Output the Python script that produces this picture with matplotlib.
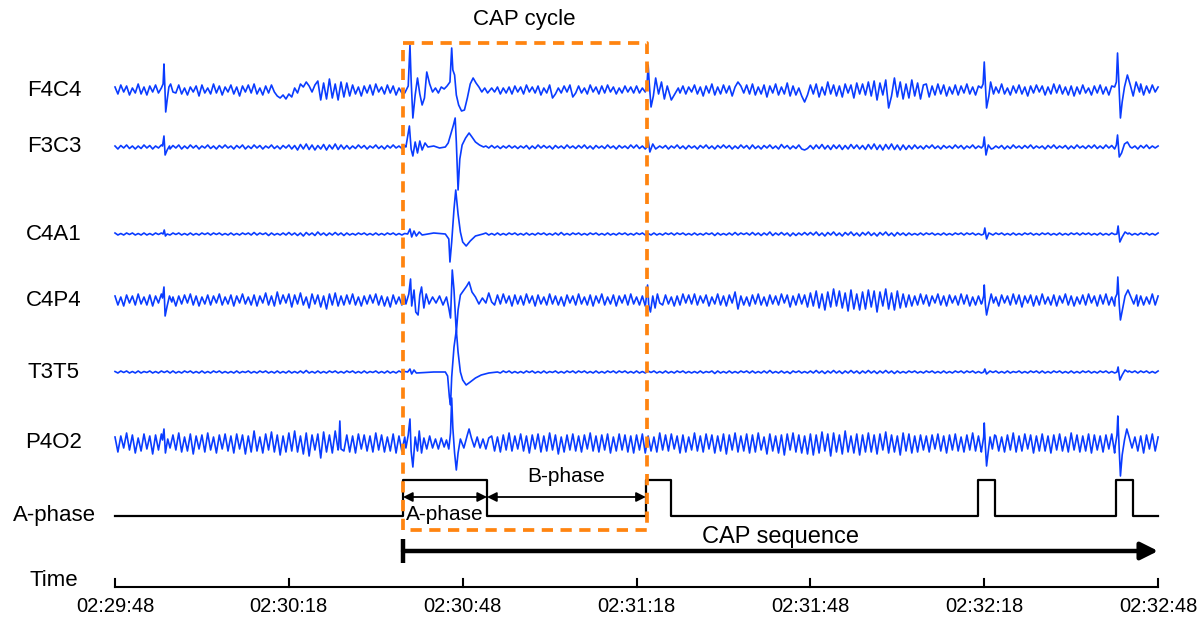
import numpy as np
import matplotlib.pyplot as plt

plt.rcParams['font.family'] = ['Liberation Sans', 'DejaVu Sans']

# seconds after 02:29:48, background samples every 0.5 s (amplitude, px-like units)
t_bg = np.arange(361) * 0.5

F4C4_bg = [3, -4, 5, -2, 4, -5, 2, -3, 6, -4, 3, -5, 4, -2, 5, -3, 2, -4, 3, -5,
           4, -3, 5, -4, 2, -5, 3, -2, 4, -6, 5, -3, 2, -4, 6, -3, 4, -5, 3, -2,
           5, -4, 3, -6, 4, -2, 5, -3, 6, -4, 2, -5, 4, -3, 5, -2, -6, -8, -5, -9,
           -4, -7, 2, -3, 6, 3, 8, 4, -2, 5, 9, -10, 7, -9, 11, -8, 6, -10, 8, -7,
           7, -6, 5, -4, 3, -6, 4, -3, 5, -5, 6, -2, 3, -4, 5, -3, 4, -5, 2, -3,
           3, -4, 4, -3, 2, -2, 3, -3, 4, -2, 3, -3, 2, -3, 4, -2, 3, -2, 2, -3,
           2, -3, 3, -2, 2, -3, 3, -2, 2, -3, 4, -2, 3, -4, 2, -3, 3, -4, 4, -2,
           3, -4, 5, -2, 3, -3, 4, -5, 2, -3, 5, -8, -4, 2, -3, 4, -2, 5, -7, -3,
           4, -3, 2, -4, 5, -2, 3, -4, 4, -3, 5, -2, 3, -4, 2, -3, 4, -2, 3, -3,
           4, -3, 2, -5, 3, -4, 5, -3, 2, -4, 3, -5, 4, -2, 5, -3, 4, -4, 3, -2,
           5, -4, 3, -6, 4, -3, 6, -5, 3, -4, 5, -3, 4, -6, 3, 8, 4, -3, 5, -4,
           6, -5, 3, -4, 5, -7, 4, -3, 6, -5, 3, -4, 7, -6, 4, -5, 2, -6, -12, -5,
           5, -4, 6, -7, 3, -5, 8, -4, 5, -6, 4, -7, 6, -3, 5, -8, 7, -4, 6, -5,
           8, -6, 9, -10, 7, -5, 10, -18, -6, 12, -7, 8, -9, 6, -8, 10, -6, 7, -9, 5,
           6, -7, 4, -5, 6, -4, 5, -6, 3, -4, 5, -5, 4, -3, 6, -4, 3, -5, 4, -3,
           5, -4, 3, -5, 4, -3, 6, -4, 2, -5, 4, -3, 5, -4, 3, -6, 4, -3, 5, -2,
           4, -5, 3, -4, 6, -3, 5, -4, 3, -5, 4, -6, 3, -4, 5, -3, 2, -5, 4, -3,
           5, -4, 3, -5, 4, -2, 3, -4, 5, -3, 4, -5, 3, -4, 6, -5, 4, -3, 5, -2,
           3]

F3C3_bg = [1, -2, 1.5, -1, 2, -1.5, 1, -2, 1, -1.5, 2, -1, 1.5, -2, 1, -1, 2, -1.5, 1, -2,
           1.5, -1, 2, -2, 1, -1.5, 2, -1, 1.5, -2, 1, -1, 2, -1.5, 1, -2, 1.5, -1, 2, -1,
           1, -2, 1.5, -1, 2, -2, 1, -1.5, 2, -1, 1.5, -2, 1, -1, 2, -1.5, 1, -2, 1.5, -1,
           2, -2, 1.5, -3, 2.5, -2, 3, -2.5, 2, -3, 1.5, -2, 2.5, -3, 2, -2, 3, -2.5, 2, -2,
           1.5, -2, 1, -1.5, 2, -1, 1.5, -2, 1, -1, 2, -1.5, 1, -2, 1.5, -1, 2, -1, 1, -1.5,
           1, -1, 1, -1, 1, -1, 1, -1, 1, -1, 1, -1, 1, -1, 1, -1, 1, -1, 1, -1,
           1, -1.5, 1, -1, 1.5, -1, 1, -1.5, 1, -1, 1.5, -1, 1, -1.5, 1, -1, 1.5, -1, 1, -1.5,
           1, -1, 1.5, -2, 1, -1.5, 2, -1, 1.5, -1, 1, -2, 1.5, -1, 1, -1.5, 2, -1, 1, -1.5,
           1.5, -1, 2, -1.5, 1, -2, 1.5, -1, 1, -1.5, 2, -1, 1, -2, 1.5, -1, 1, -1.5, 2, -1,
           2, -1.5, 1, -2, 1.5, -1, 2, -1.5, 1, -1, 1.5, -2, 1, -1, 2, -1.5, 1, -2, 1.5, -1,
           1, -2, 1.5, -1, 2, -1.5, 1, -2, 1.5, -1, 2, -1, 1.5, -2, 1, -1.5, 2, -1, 1.5, -2,
           2, -1.5, 1, -2, 1.5, -1, 2, -1.5, 1, -2, 2.5, -1, 1.5, -2, 1, -1.5, 2, -2, -3, -1.5,
           1.5, -2, 2, -1.5, 2.5, -2, 1.5, -2.5, 2, -1.5, 2, -2.5, 1.5, -2, 2.5, -1.5, 2, -2, 1.5, -2.5,
           2.5, -2, 3, -2.5, 2, -3, 2.5, -2, 3, -2.5, 2, -3, 2, -2.5, 1.5, -2, 2, -1.5, 1, -2,
           1.5, -1, 2, -1.5, 1, -2, 1.5, -1, 1, -1.5, 2, -1, 1.5, -2, 1, -1, 2, -1.5, 1, -1,
           1.5, -1, 2, -1.5, 1, -1, 1.5, -2, 1, -1.5, 2, -1, 1, -1.5, 1.5, -1, 2, -1.5, 1, -1,
           1, -2, 1.5, -1, 2, -1.5, 1, -1, 1.5, -2, 1, -1.5, 2, -1, 1, -1.5, 1.5, -1, 2, -1.5,
           1, -1.5, 2, -1, 1.5, -2, 1, -1, 1.5, -1.5, 2, -1, 1, -2, 1.5, -1, 2, -1.5, 1, -1,
           1]

C4A1_bg = [1, -1, 0.5, -1, 1, -0.5, 1, -1, 0.5, -1, 1, -1, 0.5, -1, 1, -0.5, 1, -1, 0.5, -1,
           1, -0.5, 1, -1, 0.5, -1, 1, -1, 0.5, -1, 1, -0.5, 1, -1, 1, -0.5, 1, -1, 0.5, -1,
           1, -1, 0.5, -1, 1, -0.5, 1, -1, 1.5, -1, 1, -0.5, 1, -1.5, 1, -1, 0.5, -1, 1, -1,
           1.5, -1, 1, -1.5, 1, -2, 1.5, -1, 1, -1.5, 2, -1, 1, -1.5, 1, -1, 1.5, -1, 1, -1.5,
           1, -1, 0.5, -1, 1, -0.5, 1, -1, 0.5, -1, 1, -1, 0.5, -1, 1, -0.5, 1, -1, 0.5, -1,
           0.5, -0.5, 0.5, -0.5, 0.5, -0.5, 0.5, -0.5, 0.5, -0.5, 0.5, -0.5, 0.5, -0.5, 0.5, -0.5, 0.5, -0.5, 0.5, -0.5,
           1, -0.5, 1, -1, 0.5, -1, 1, -0.5, 1, -1, 0.5, -1, 1, -1, 0.5, -1, 1, -0.5, 1, -1,
           0.5, -1, 1, -1, 0.5, -1, 1, -0.5, 1, -1, 0.5, -1, 1, -1, 1.5, -1, 0.5, -1, 1, -0.5,
           1, -1, 0.5, -1, 1, -0.5, 1, -1, 0.5, -1, 1, -1, 0.5, -1, 1, -0.5, 1, -1, 0.5, -1,
           1, -0.5, 1, -1, 0.5, -1, 1, -1, 0.5, -1, 1, -0.5, 1, -1, 1, -0.5, 1, -1, 0.5, -1,
           1, -1, 0.5, -1, 1, -0.5, 1, -1.5, 1, -1, 0.5, -1, 1, -1, 1.5, -1, 1, -0.5, 1, -1,
           1.5, -1, 1, -1.5, 1, -1, 2, -1.5, 1, -1, 1.5, -1, 1, -2, 1, -1.5, 1, -1, 1.5, -1,
           1.5, -1, 2, -1.5, 1, -2, 1.5, -1, 2, -1.5, 1, -2, 1.5, -1, 2, -1.5, 1, -2, 1.5, -1,
           2, -1.5, 1, -2, 1.5, -1, 2, -1.5, 1, -2, 1.5, -1, 1, -1.5, 1, -1, 0.5, -1, 1, -1,
           1, -0.5, 1, -1, 0.5, -1, 1, -1, 0.5, -1, 1, -0.5, 1, -1, 1, -0.5, 1, -1, 0.5, -1,
           1, -1, 0.5, -1, 1, -0.5, 1, -1, 0.5, -1, 1, -1, 0.5, -1, 1, -0.5, 1, -1, 0.5, -1,
           1, -0.5, 1, -1, 0.5, -1, 1, -1, 0.5, -1, 1, -0.5, 1, -1, 1, -0.5, 1, -1, 0.5, -1,
           1, -1, 0.5, -1, 1, -0.5, 1, -1, 0.5, -1, 1, -1, 0.5, -1, 1, -0.5, 1, -1, 0.5, -1,
           1]

C4P4_bg = [4, -5, 3, -6, 5, -3, 4, -5, 6, -4, 3, -5, 5, -6, 4, -3, 6, -4, 5, -5,
           3, -6, 4, -4, 5, -3, 6, -5, 4, -6, 3, -4, 5, -5, 4, -3, 6, -5, 3, -4,
           5, -6, 4, -3, 6, -4, 3, -5, 5, -6, 4, -3, 7, -5, 4, -6, 8, -4, 5, -3,
           6, -7, 5, -4, 7, -5, 3, -8, 6, -4, 5, -7, 4, -9, 6, -5, 7, -6, 4, -5,
           5, -4, 6, -5, 3, -6, 4, -4, 5, -3, 6, -5, 4, -6, 3, -7, 5, -4, 3, -5,
           4, -5, 4, -5, 4, -5, 4, -5, 4, -5, 4, -5, 4, -5, 4, -5, 4, -5, 4, -5,
           5, -4, 3, -6, 5, -3, 4, -5, 6, -4, 3, -5, 5, -4, 6, -3, 4, -6, 5, -4,
           4, -5, 6, -3, 4, -6, 5, -4, 3, -5, 6, -4, 4, -5, 3, -6, 5, -3, 4, -5,
           6, -4, 3, -5, 5, -6, 4, -3, 6, -5, 3, -4, 5, -6, 4, -3, 5, -5, 6, -4,
           3, -5, 4, -6, 5, -4, 6, -3, 4, -5, 5, -4, 3, -6, 4, -5, 6, -3, 5, -4,
           6, -5, 4, -3, 5, -6, 3, -4, 6, -5, 4, -6, 5, -3, 8, -9, 4, -5, 3, -6,
           5, -4, 6, -5, 3, -6, 5, -4, 4, -5, 6, -3, 5, -7, 4, -5, 6, -4, 5, -7,
           7, -6, 9, -8, 6, -10, 8, -7, 11, -6, 9, -8, 7, -11, 10, -9, 6, -10, 8, -9,
           10, -7, 9, -12, 8, -6, 11, -9, 7, -10, 9, -8, 6, -7, 5, -6, 4, -5, 6, -4,
           5, -6, 4, -3, 6, -5, 4, -6, 5, -3, 4, -5, 6, -4, 5, -6, 3, -5, 4, -4,
           5, -5, 6, -4, 3, -6, 5, -3, 4, -5, 6, -4, 5, -7, 4, -3, 5, -6, 4, -5,
           6, -4, 3, -5, 5, -6, 4, -3, 6, -5, 4, -6, 3, -4, 5, -5, 6, -3, 4, -6,
           5, -4, 6, -5, 3, -6, 4, -5, 5, -3, 6, -4, 5, -6, 4, -5, 3, -4, 6, -5,
           4]

T3T5_bg = [0.5, -1, 1, -0.5, 1, -1, 0.5, -1, 1, -1, 0.5, -0.5, 1, -1, 0.5, -1, 1, -0.5, 1, -1,
           1, -1, 0.5, -1, 1, -0.5, 1, -1, 0.5, -1, 1, -1, 0.5, -1, 1, -0.5, 1, -1, 0.5, -1,
           0.5, -1, 1, -1, 0.5, -0.5, 1, -1, 0.5, -1, 1, -0.5, 1, -1, 0.5, -1, 1, -1, 0.5, -1,
           1, -1, 0.5, -1, 1, -1, 1.5, -1, 0.5, -1, 1, -1, 0.5, -1, 1, -0.5, 1, -1, 0.5, -1,
           1, -0.5, 1, -1, 0.5, -1, 1, -1, 0.5, -0.5, 1, -1, 0.5, -1, 1, -1, 0.5, -1, 1, -0.5,
           0.5, -0.5, 0.5, -0.5, 0.5, -0.5, 0.5, -0.5, 0.5, -0.5, 0.5, -0.5, 0.5, -0.5, 0.5, -0.5, 0.5, -0.5, 0.5, -0.5,
           1, -1, 0.5, -1, 1, -0.5, 1, -1, 0.5, -1, 1, -1, 0.5, -1, 1, -0.5, 1, -1, 0.5, -1,
           0.5, -1, 1, -0.5, 1, -1, 0.5, -1, 1, -1, 0.5, -0.5, 1, -1, 0.5, -1, 1, -0.5, 1, -1,
           1, -0.5, 1, -1, 0.5, -1, 1, -1, 0.5, -1, 1, -0.5, 1, -1, 1, -0.5, 1, -1, 0.5, -1,
           1, -1, 0.5, -1, 1, -0.5, 1, -1, 0.5, -1, 1, -1, 0.5, -1, 1, -0.5, 1, -1, 0.5, -1,
           0.5, -1, 1, -1, 0.5, -0.5, 1, -1.5, 1, -1, 0.5, -1, 1, -1, 0.5, -1, 1, -0.5, 1, -1,
           1, -1, 0.5, -1, 1, -1, 1.5, -1, 0.5, -1, 1, -1, 0.5, -1.5, 1, -0.5, 1, -1, 0.5, -1,
           1, -1, 1.5, -1, 1, -1.5, 1, -1, 1.5, -1, 1, -1.5, 1, -1, 1.5, -1, 1, -1.5, 1, -1,
           1.5, -1, 1, -1.5, 1, -1, 1.5, -1, 1, -1.5, 1, -1, 0.5, -1, 1, -0.5, 1, -1, 0.5, -1,
           1, -0.5, 1, -1, 0.5, -1, 1, -1, 0.5, -1, 1, -0.5, 1, -1, 1, -0.5, 1, -1, 0.5, -1,
           0.5, -1, 1, -0.5, 1, -1, 0.5, -1, 1, -1, 0.5, -0.5, 1, -1, 0.5, -1, 1, -0.5, 1, -1,
           1, -1, 0.5, -1, 1, -0.5, 1, -1, 0.5, -1, 1, -1, 0.5, -1, 1, -0.5, 1, -1, 0.5, -1,
           1, -0.5, 1, -1, 0.5, -1, 1, -1, 0.5, -1, 1, -0.5, 1, -1, 1, -0.5, 1, -1, 0.5, -1,
           1]

P4O2_bg = [6, -9, 7, -5, 10, -7, 8, -10, 5, -8, 9, -6, 7, -11, 8, -7, 9, -8, 6, -9,
           8, -7, 10, -9, 6, -8, 9, -11, 7, -6, 8, -9, 10, -7, 6, -10, 8, -6, 9, -8,
           7, -10, 9, -6, 8, -11, 7, -9, 12, -8, 6, -10, 9, -7, 11, -9, 8, -12, 7, -9,
           10, -8, 12, -9, 7, -11, 10, -13, 8, -7, 9, -15, 11, -9, 8, -10, 12, -7, 9, -8,
           8, -9, 7, -10, 9, -6, 8, -8, 7, -9, 10, -7, 8, -9, 6, -8, 9, -10, 7, -8,
           6, -7, 6, -7, 6, -7, 6, -7, 6, -7, 6, -7, 6, -7, 6, -7, 6, -7, 6, -7,
           8, -7, 6, -9, 7, -8, 9, -6, 8, -10, 7, -8, 6, -9, 8, -7, 10, -8, 7, -6,
           9, -8, 7, -10, 8, -6, 9, -9, 7, -8, 10, -7, 8, -11, 6, -9, 8, -7, 9, -8,
           7, -9, 8, -6, 10, -8, 7, -9, 8, -7, 9, -10, 6, -8, 9, -7, 8, -9, 7, -10,
           8, -7, 9, -10, 7, -8, 6, -9, 10, -7, 8, -8, 9, -6, 7, -10, 8, -9, 6, -7,
           10, -8, 7, -9, 9, -6, 8, -10, 7, -8, 9, -11, 8, -7, 10, -9, 7, -8, 9, -10,
           8, -9, 10, -7, 6, -11, 9, -8, 7, -10, 8, -12, 9, -7, 10, -9, 8, -10, 7, -11,
           9, -12, 8, -10, 11, -8, 9, -13, 10, -9, 8, -11, 12, -9, 7, -10, 9, -12, 8, -9,
           10, -9, 8, -11, 9, -7, 11, -10, 8, -9, 7, -12, 10, -8, 9, -10, 7, -9, 8, -7,
           7, -9, 8, -6, 9, -8, 7, -10, 8, -7, 9, -8, 6, -9, 8, -7, 10, -8, 7, -9,
           8, -7, 9, -10, 7, -8, 6, -9, 8, -7, 10, -9, 7, -8, 9, -6, 8, -10, 7, -8,
           9, -8, 7, -10, 8, -7, 9, -8, 6, -9, 10, -7, 8, -9, 7, -8, 9, -10, 8, -7,
           7, -9, 8, -6, 9, -10, 7, -8, 8, -9, 6, -7, 9, -8, 7, -10, 8, -6, 9, -8,
           6]

# transient complexes, (seconds, amplitude) samples
F4C4_events = [
    [(8.0, 2), (8.3, 6), (8.45, 26), (8.6, 4), (8.75, -22), (9.0, -10), (9.3, 3), (9.6, 6), (10.0, -2)],
    [(50.0, -3), (50.6, 4), (50.9, 45), (51.1, 10), (51.4, -28), (51.8, -5), (52.2, 12), (52.6, -4),
     (53.0, -15), (53.4, -8), (53.8, 18), (54.3, 6), (54.8, -2), (55.3, 2), (55.8, -3), (56.3, 3),
     (56.8, 1), (57.3, 4), (57.8, 8), (58.1, 42), (58.3, 20), (58.6, 15), (58.9, -5), (59.3, -15),
     (59.8, -21), (60.3, -20), (60.8, -8), (61.3, 6), (61.8, 12), (62.3, 7), (62.8, 3), (63.3, -2),
     (63.8, 2), (64.3, -3), (65.0, 2)],
    [(91.5, -2), (91.8, 5), (92.0, 25), (92.2, 6), (92.5, -17), (92.9, -6), (93.3, 12), (93.8, -4),
     (94.3, 8), (94.8, -9), (95.3, 4), (96.0, -10), (96.6, -4), (97.2, 2)],
    [(149.5, 2), (149.8, 6), (150.0, 28), (150.2, 5), (150.4, -18), (150.8, -6), (151.1, 8),
     (151.6, -4), (152.0, 3)],
    [(172.5, 3), (172.8, 8), (173.0, 37), (173.2, 10), (173.5, -28), (173.8, -12), (174.2, 3),
     (174.7, 15), (175.2, 5), (175.7, -6), (176.2, 8), (176.8, -2)],
]

F3C3_events = [
    [(8.2, 1), (8.45, 11), (8.65, -8), (9.0, -3), (9.4, 1)],
    [(50.2, 0), (50.8, 21), (51.1, -2), (51.4, -9), (51.8, 5), (52.2, -6), (52.6, 6), (53.0, -3),
     (53.5, 4), (54.0, 0), (55.0, 1), (56.0, -1), (57.0, 0), (57.5, 4), (58.0, 14), (58.4, 22),
     (58.7, 29), (58.9, 5), (59.2, -43), (59.5, -12), (59.9, 2), (60.5, 9), (61.1, 14), (61.6, 10),
     (62.2, 5), (62.9, 2), (63.6, 0)],
    [(91.8, 0), (92.0, 7), (92.3, -5), (92.8, 3), (93.3, -2), (94.0, 1)],
    [(149.8, 1), (150.0, 10), (150.3, -8), (150.7, 2), (151.2, -2)],
    [(172.8, 2), (173.0, 12), (173.3, -10), (173.7, -6), (174.2, 3), (174.7, 5), (175.2, 0)],
]

C4A1_events = [
    [(8.3, 0), (8.5, 4), (8.7, -2), (9.0, 0)],
    [(50.5, 0), (50.9, 5), (51.2, -3), (51.6, 3), (52.0, -2), (52.5, 2), (53.0, -1), (55.0, 1),
     (57.0, 0), (57.6, -5), (57.8, -28), (58.1, -8), (58.5, 25), (58.8, 44), (59.2, 20), (59.6, 2),
     (60.0, -8), (60.6, -12), (61.3, -7), (62.2, -2), (63.5, 0)],
    [(149.9, 0), (150.1, 6), (150.4, -5), (150.8, 1)],
    [(172.9, 0), (173.1, 8), (173.4, -8), (173.8, -3), (174.3, 2), (174.8, 0)],
]

C4P4_events = [
    [(8.2, 2), (8.45, 13), (8.65, -16), (9.0, -6), (9.4, 4), (9.8, -2)],
    [(50.2, -4), (50.7, 6), (51.0, 21), (51.2, -6), (51.6, 10), (51.9, -12), (52.3, -15), (52.6, 5),
     (52.9, 13), (53.3, -8), (53.7, 6), (54.2, -4), (54.8, 3), (55.4, -3), (56.0, 4), (56.6, -5),
     (57.2, 3), (57.6, -8), (57.9, -18), (58.2, 30), (58.5, 10), (58.9, -33), (59.2, -10), (59.6, 5),
     (60.2, 10), (60.7, 14), (61.1, 18), (61.6, 8), (62.2, 3), (62.8, -4), (63.4, 2), (64.0, -3),
     (64.5, 7), (65.0, -2)],
    [(91.6, -2), (91.9, 15), (92.1, -5), (92.4, -12), (92.8, 4), (93.2, -8), (93.6, 6), (94.0, -3)],
    [(149.6, -3), (149.9, 4), (150.0, 15), (150.2, -5), (150.4, -15), (150.8, -4), (151.2, 6), (151.6, -3)],
    [(172.6, 2), (172.9, 6), (173.05, 23), (173.3, -5), (173.5, -20), (173.9, -8), (174.3, 4),
     (174.8, 10), (175.3, 3), (175.8, -4), (176.3, 5)],
]

T3T5_events = [
    [(50.5, 0), (50.9, 3), (51.2, -2), (51.6, 2), (52.0, -1), (55.0, 0), (57.0, 0), (57.4, -4),
     (57.7, -25), (57.9, -33), (58.1, -5), (58.5, 25), (58.9, 42), (59.2, 20), (59.6, 0), (60.0, -8),
     (60.6, -13), (61.3, -10), (62.2, -6), (63.2, -3), (64.5, -1), (66.0, 0)],
    [(149.9, 0), (150.1, 3), (150.4, -2), (150.8, 0)],
    [(172.9, 0), (173.1, 5), (173.4, -8), (173.8, -3), (174.3, 2), (174.8, 0)],
]

P4O2_events = [
    [(8.2, 3), (8.45, 14), (8.7, -10), (9.1, 4), (9.5, -5)],
    [(38.6, -4), (38.8, 22), (39.0, -6)],
    [(50.2, -5), (50.6, 8), (50.9, 24), (51.1, -8), (51.4, -24), (51.8, 6), (52.2, -8), (52.5, 12),
     (52.9, -10), (53.3, 5), (53.8, -6), (54.3, 7), (54.8, -5), (55.3, 4), (55.8, -6), (56.3, 5),
     (56.8, -4), (57.2, 3), (57.6, -6), (57.9, 10), (58.1, 45), (58.3, 15), (58.6, -10), (58.9, -27),
     (59.2, -10), (59.6, 4), (60.2, -5), (60.8, 8), (61.1, 14), (61.5, 5), (62.0, -4), (62.5, 6),
     (63.0, -5), (63.5, 4), (64.0, -6), (64.5, 5)],
    [(149.6, -5), (149.9, 6), (150.0, 20), (150.2, -4), (150.4, -23), (150.7, -8), (151.0, 6),
     (151.4, -6), (151.8, 8)],
    [(172.6, -3), (172.9, 8), (173.05, 27), (173.3, -8), (173.5, -33), (173.8, -12), (174.2, 3),
     (174.6, 14), (175.0, 6), (175.5, -5), (176.0, 6)],
]

channels = ['F4C4', 'F3C3', 'C4A1', 'C4P4', 'T3T5', 'P4O2']
backgrounds = [F4C4_bg, F3C3_bg, C4A1_bg, C4P4_bg, T3T5_bg, P4O2_bg]
events = [F4C4_events, F3C3_events, C4A1_events, C4P4_events, T3T5_events, P4O2_events]

# A-phase onsets / offsets in seconds
a_phases = [(49.7, 64.2), (91.6, 95.9), (148.9, 151.9), (172.7, 175.7)]

t_start = 2 * 3600 + 29 * 60 + 48
t_end = 180
tick_step = 30

# layout (pixel rows, axes uses a 1200x620 pixel frame)
baselines = [90, 147, 234, 300, 372, 443]
aphase_y, aphase_h = 516, 36
seq_y, axis_y = 551, 587
px_per_s, x0_px = 5.795, 115
label_x = -61 / px_per_s


def build_trace(bg, evts):
    keep = np.ones(len(t_bg), dtype=bool)
    for grp in evts:
        lo, hi = grp[0][0], grp[-1][0]
        keep &= ~((t_bg >= lo) & (t_bg <= hi))
    t = list(t_bg[keep])
    v = list(np.asarray(bg, dtype=float)[keep])
    for grp in evts:
        t += [p[0] for p in grp]
        v += [p[1] for p in grp]
    order = np.argsort(t)
    return np.asarray(t)[order], np.asarray(v)[order]


fig = plt.figure(figsize=(12, 6.2), dpi=100)
ax = fig.add_axes([0, 0, 1, 1])
ax.set_xlim(-x0_px / px_per_s, (1200 - x0_px) / px_per_s)
ax.set_ylim(620, 0)
ax.axis('off')

blue = '#0a3cff'
for name, bg, evts, base in zip(channels, backgrounds, events, baselines):
    t, v = build_trace(bg, evts)
    ax.plot(t, base - v, color=blue, lw=1.2)
    ax.text(label_x, base, name, fontsize=16, ha='center', va='center')

# A-phase binary signal
xs, ys = [0], [0]
for on, off in a_phases:
    xs += [on, on, off, off]
    ys += [0, 1, 1, 0]
xs.append(t_end)
ys.append(0)
ax.plot(xs, aphase_y - aphase_h * np.asarray(ys), color='black', lw=1.6)
ax.text(label_x, aphase_y, 'A-phase', fontsize=16, ha='center', va='center')

# A-phase / B-phase duration arrows
a_on, a_off = a_phases[0]
b_off = a_phases[1][0]
arr = dict(arrowstyle='<|-|>', color='black', lw=1.3, mutation_scale=14, shrinkA=0, shrinkB=0)
ax.annotate('', xy=(a_on, 497), xytext=(a_off, 497), arrowprops=arr)
ax.annotate('', xy=(a_off, 497), xytext=(b_off, 497), arrowprops=arr)
ax.text((a_on + a_off) / 2, 515, 'A-phase', fontsize=15, ha='center', va='center')
ax.text((a_off + b_off) / 2, 477, 'B-phase', fontsize=15, ha='center', va='center')

# CAP cycle box
box_x = [a_on, b_off + 0.2, b_off + 0.2, a_on, a_on]
box_y = [43, 43, 530, 530, 43]
ax.plot(box_x, box_y, color='#ff8410', lw=2.7, linestyle=(0, (3, 2)))
ax.text((a_on + b_off) / 2, 19, 'CAP cycle', fontsize=16, ha='center', va='center')

# CAP sequence arrow
ax.annotate('', xy=(t_end, seq_y), xytext=(a_on, seq_y),
            arrowprops=dict(arrowstyle='-|>', color='black', lw=3.2, mutation_scale=26,
                            shrinkA=0, shrinkB=0))
ax.plot([a_on, a_on], [seq_y - 12, seq_y + 12], color='black', lw=3.2, solid_capstyle='butt')
ax.text(114.8, 537, 'CAP sequence', fontsize=17, ha='center', va='center')

# time axis
ax.plot([0, t_end], [axis_y, axis_y], color='black', lw=1.5)
ax.text(label_x, 580, 'Time', fontsize=16, ha='center', va='center')
for s in range(0, t_end + 1, tick_step):
    ax.plot([s, s], [axis_y, axis_y - 8], color='black', lw=1.5)
    clock = t_start + s
    label = f'{clock // 3600:02d}:{clock % 3600 // 60:02d}:{clock % 60:02d}'
    ax.text(s, 606, label, fontsize=14.5, ha='center', va='center')

fig.savefig('out.png', dpi=100)
